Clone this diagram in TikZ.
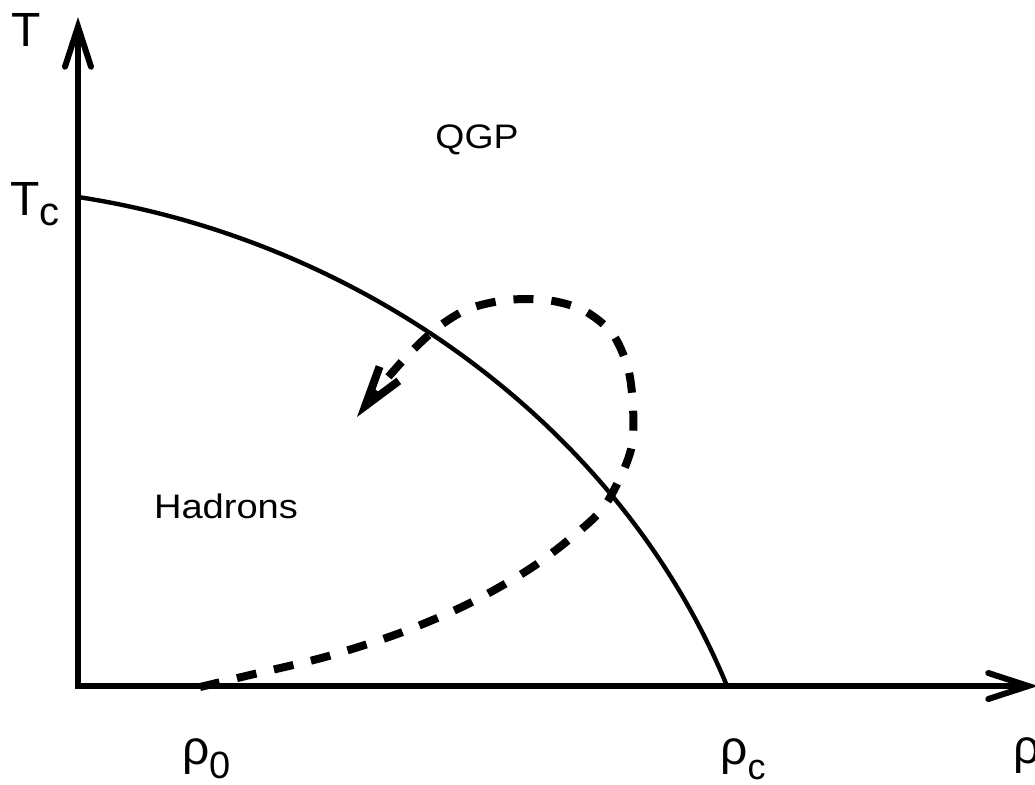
\documentclass[tikz,border=0pt]{standalone}
\usepackage{fontspec}
\setmainfont{Liberation Sans}
\usetikzlibrary{arrows.meta}
\tikzset{
  axtip/.tip={Straight Barb[length=20pt,width=13pt,line cap=round]},
  pathtip/.tip={Straight Barb[length=20pt,width=12pt,line width=4pt]}
}
\begin{document}
\begin{tikzpicture}[x=0.5pt,y=-0.5pt,
  axis/.style={line width=3pt, line join=miter},
  boundary/.style={line width=2.2pt},
  path/.style={line width=4pt, dash pattern=on 10pt off 9pt},
  lbl/.style={inner sep=0pt, font=\fontsize{17}{17}\selectfont},
  biglbl/.style={inner sep=0pt, font=\fontsize{24}{24}\selectfont}]
\useasboundingbox (0,0) rectangle (1035,784);
% axes
\coordinate (O) at (78,686);
\coordinate (Ytop) at (78,17);
\coordinate (Xend) at (1038,686);
\draw[axis, axtip-axtip] (Ytop) -- (O) -- (Xend);
% phase boundary
\coordinate (tcpt) at (78,197);
\coordinate (rcpt) at (727,686);
\draw[boundary] (tcpt) .. controls (360,240) and (620,425) .. (rcpt);
% trajectory
\coordinate (start) at (200,687);
\coordinate (tip) at (357,417);
\draw[path, -pathtip] plot[smooth] coordinates {(start) (250,675) (325,657) (400,633) (470,603) (537,564) (597,515) (620,478) (632,445) (633,407) (628,368) (612,333) (583,310) (547,300) (507,300) (468,309) (437,328) (408,355) (380,387) (tip)};
% labels
\node[biglbl, anchor=base] (lblT) at (26,46) {T};
\node[biglbl, anchor=base west] (lblTc) at (10,215) {T\raisebox{-5pt}{\fontsize{20}{20}\selectfont c}};
\node[lbl, anchor=base] (qgp) at (477,148) {\scalebox{1.1}[1]{QGP}};
\node[lbl, anchor=base] (hadrons) at (226,518) {\scalebox{1.12}[1]{Hadrons}};
\node[biglbl, anchor=base west] (rho0) at (182,764) {ρ\raisebox{-7pt}{\fontsize{19}{19}\selectfont 0}};
\node[biglbl, anchor=base west] (rhoc) at (720,764) {ρ\raisebox{-7.5pt}{\fontsize{18}{18}\selectfont c}};
\node[biglbl, anchor=base west] (rho) at (1013,763) {ρ};
\end{tikzpicture}
\end{document}
